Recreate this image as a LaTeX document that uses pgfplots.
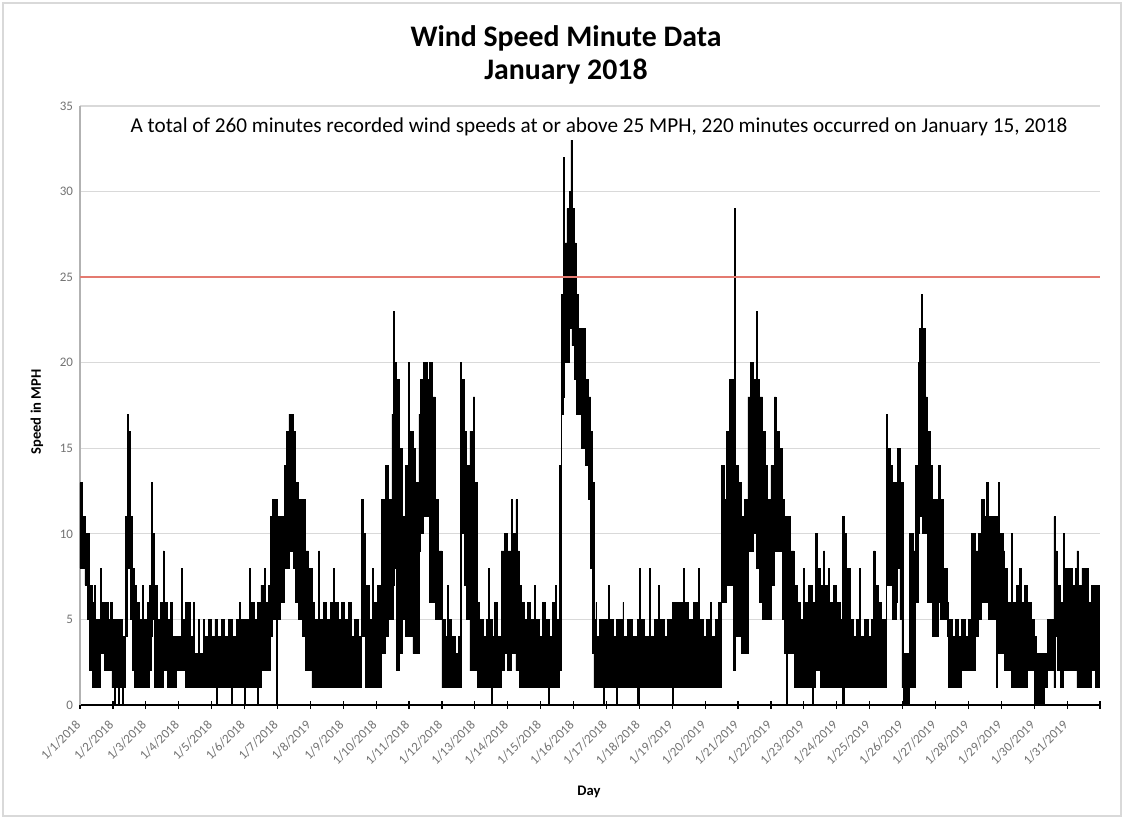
\documentclass[border=0pt]{standalone}
\usepackage{fontspec}
\setmainfont{Carlito}
\usepackage{pgfplots}
\pgfplotsset{compat=1.18}
\usepackage{pgfplotstable}

\definecolor{tickgray}{RGB}{115,115,115}
\definecolor{gridgray}{RGB}{217,217,217}
\definecolor{limitred}{RGB}{228,122,112}

\begin{document}
% envelope of the minute data: x in days from 1/1, lo = lowest, hi = highest speed
\pgfplotstableread{
x lo hi
0.00 8 13
0.06 8 11
0.15 7 10
0.22 5 10
0.28 2 7
0.38 1 6
0.44 1 7
0.47 1 5
0.58 1 5
0.62 3 8
0.66 3 6
0.75 2 6
0.85 2 5
0.92 2 6
0.97 1 5
1.05 0 5
1.08 1 5
1.18 0 4
1.21 1 5
1.30 0 4
1.33 1 4
1.38 4 11
1.43 8 17
1.48 8 16
1.53 5 11
1.60 2 8
1.65 1 7
1.72 1 6
1.80 1 5
1.90 1 7
1.93 1 5
2.05 1 6
2.12 2 7
2.17 4 13
2.21 5 10
2.27 1 7
2.35 1 5
2.45 1 6
2.53 3 9
2.56 2 6
2.65 1 5
2.75 1 6
2.80 1 4
2.92 2 4
3.08 2 8
3.11 2 5
3.20 1 6
3.35 1 4
3.45 1 6
3.48 1 3
3.60 1 5
3.63 1 3
3.75 1 5
3.78 1 4
3.90 1 5
4.00 1 4
4.10 1 5
4.15 0 5
4.18 1 4
4.30 1 5
4.40 1 4
4.50 1 5
4.60 0 5
4.63 1 4
4.75 1 5
4.85 1 6
4.88 1 5
5.00 0 5
5.03 1 5
5.15 1 8
5.18 1 6
5.30 1 5
5.40 0 6
5.43 1 6
5.50 2 7
5.60 2 8
5.63 2 6
5.72 2 7
5.80 4 11
5.86 5 12
5.97 0 12
6.00 5 11
6.10 6 11
6.20 8 14
6.27 8 16
6.35 9 17
6.48 8 16
6.56 6 13
6.65 5 12
6.75 4 12
6.85 2 9
6.95 2 8
7.05 1 6
7.12 1 5
7.25 1 9
7.28 1 5
7.40 1 6
7.50 1 5
7.60 1 6
7.70 1 8
7.73 1 6
7.85 1 5
7.95 1 6
8.05 1 5
8.15 1 6
8.25 1 4
8.35 1 5
8.45 1 4
8.55 4 12
8.60 4 10
8.68 1 7
8.80 1 5
8.90 1 8
8.93 1 6
9.05 1 7
9.15 3 12
9.28 4 14
9.38 5 12
9.48 5 17
9.54 7 23
9.57 8 20
9.63 2 19
9.72 3 15
9.80 5 11
9.90 4 14
9.97 4 20
10.02 4 16
10.12 3 15
10.20 3 13
10.30 9 17
10.35 10 19
10.45 11 20
10.55 11 19
10.62 6 20
10.70 6 18
10.80 5 12
10.90 5 9
11.00 1 5
11.10 1 4
11.18 1 7
11.21 1 5
11.30 1 4
11.40 1 3
11.50 1 4
11.55 1 20
11.60 10 19
11.68 7 16
11.75 5 14
11.85 2 16
11.95 2 18
12.00 2 13
12.08 1 6
12.15 1 5
12.25 1 4
12.35 1 5
12.40 1 8
12.43 1 5
12.50 0 5
12.53 1 4
12.60 1 6
12.70 1 4
12.80 2 9
12.90 3 10
13.00 2 9
13.10 4 12
13.14 3 10
13.25 2 12
13.29 2 9
13.35 1 7
13.40 1 6
13.50 1 5
13.60 1 6
13.70 1 5
13.80 1 7
13.83 1 5
13.95 1 4
14.05 1 6
14.15 1 5
14.25 0 5
14.28 1 4
14.35 1 6
14.45 1 7
14.48 1 5
14.58 2 14
14.64 17 24
14.68 18 32
14.71 20 27
14.80 20 29
14.88 22 30
14.92 22 33
14.95 21 29
15.02 19 27
15.08 17 24
15.15 17 22
15.25 15 22
15.35 14 19
15.45 12 18
15.52 8 16
15.58 3 13
15.62 1 5
15.68 1 6
15.70 1 4
15.80 1 5
15.90 0 4
15.93 1 5
16.05 1 7
16.08 1 5
16.20 1 4
16.30 0 5
16.33 1 5
16.50 1 6
16.53 1 4
16.65 1 5
16.80 1 4
16.95 0 5
17.00 1 8
17.03 1 5
17.15 1 4
17.30 1 8
17.33 1 4
17.45 1 5
17.57 1 7
17.60 1 5
17.75 1 4
17.85 1 5
18.00 0 6
18.03 1 6
18.20 1 6
18.33 1 8
18.36 1 6
18.50 1 5
18.65 1 6
18.80 1 8
18.83 1 5
18.95 1 4
19.05 1 5
19.15 1 6
19.18 1 4
19.30 1 5
19.40 1 6
19.50 6 14
19.58 6 12
19.65 7 16
19.75 7 19
19.85 2 16
19.88 2 29
19.91 4 14
20.00 4 13
20.10 3 11
20.20 3 12
20.30 9 18
20.38 9 20
20.48 10 19
20.55 8 23
20.58 8 19
20.65 6 18
20.75 5 16
20.82 5 14
20.90 5 12
21.00 7 14
21.10 9 18
21.15 9 16
21.25 9 15
21.35 5 12
21.40 3 11
21.47 0 8
21.50 3 11
21.60 3 9
21.70 1 7
21.80 1 6
21.90 1 5
22.00 1 8
22.03 1 6
22.15 1 7
22.25 0 6
22.28 1 6
22.35 2 10
22.40 2 8
22.50 1 7
22.60 1 9
22.63 1 7
22.75 1 8
22.78 1 6
22.90 1 7
23.00 1 6
23.10 1 5
23.18 0 11
23.22 1 10
23.30 1 8
23.40 1 5
23.50 1 4
23.60 1 5
23.70 1 8
23.73 1 4
23.85 1 5
23.95 1 4
24.05 1 5
24.12 1 9
24.16 1 7
24.25 1 6
24.35 1 5
24.50 8 17
24.55 7 15
24.62 7 14
24.70 5 13
24.80 6 12
24.85 8 15
24.92 5 13
24.98 1 13
25.02 0 3
25.20 1 10
25.32 1 9
25.40 6 14
25.47 10 20
25.52 11 22
25.56 11 24
25.60 10 22
25.68 10 18
25.75 6 16
25.85 6 14
25.92 4 12
26.05 4 11
26.10 6 14
26.15 5 12
26.25 5 8
26.35 4 6
26.40 1 5
26.50 1 4
26.60 1 5
26.70 1 4
26.80 2 5
26.90 2 4
27.00 2 5
27.10 2 10
27.20 4 9
27.30 5 10
27.40 6 12
27.50 6 11
27.55 6 13
27.62 5 11
27.84 1 11
27.87 5 11
27.90 3 13
27.95 3 10
28.05 3 9
28.10 2 8
28.20 2 6
28.30 1 10
28.33 1 6
28.45 1 7
28.55 1 8
28.60 1 6
28.70 1 7
28.80 2 6
28.92 2 5
29.00 0 3
29.05 0 4
29.08 0 3
29.30 1 3
29.40 2 5
29.55 2 5
29.60 1 11
29.63 4 9
29.70 2 7
29.80 1 6
29.90 2 10
29.93 2 8
30.05 2 8
30.15 2 7
30.25 2 8
30.30 1 9
30.35 1 7
30.45 1 8
30.55 1 8
30.65 1 6
30.75 2 7
30.85 1 7
30.97 1 7
}\windtable

\begin{tikzpicture}
\useasboundingbox (-40pt,-57pt) rectangle (522pt,352.5pt);
\draw[gridgray, line width=0.8pt, fill=white] (-38.5pt,-55.5pt) rectangle (520.5pt,351pt);
\begin{axis}[
  at={(0pt,0pt)}, anchor=south west, scale only axis,
  width=510pt, height=299.5pt,
  xmin=0, xmax=31, ymin=0, ymax=35,
  axis x line=bottom, axis y line=left, axis line style={-},
  x axis line style={black, line width=0.6pt},
  y axis line style={gray!60, line width=0.6pt},
  xtick={0,...,31},
  xticklabels={1/1/2018,1/2/2018,1/3/2018,1/4/2018,1/5/2018,1/6/2018,1/7/2018,1/8/2019,1/9/2018,1/10/2018,1/11/2018,1/12/2018,1/13/2018,1/14/2018,1/15/2018,1/16/2018,1/17/2018,1/18/2018,1/19/2019,1/20/2019,1/21/2019,1/22/2019,1/23/2019,1/24/2019,1/25/2019,1/26/2019,1/27/2019,1/28/2019,1/29/2019,1/30/2019,1/31/2019,{}},
  ytick={0,5,...,35},
  ymajorgrids, grid style={gridgray, line width=0.6pt},
  tick align=center, major tick length=4pt,
  xtick style={black, line width=0.6pt},
  ytick style={draw=none},
  tick label style={font=\fontsize{6.5}{7}\selectfont, text=tickgray},
  xticklabel style={yshift=-6pt, rotate=45, anchor=east, inner sep=1pt},
  yticklabel style={anchor=east, xshift=2pt},
  /pgf/number format/assume math mode=true,
]
\addplot[draw=none, fill=none, const plot, stack plots=y, forget plot] table[x=x, y=lo] {\windtable};
\addplot[black, fill=black, line width=0.4pt, const plot, stack plots=y] table[x=x, y expr=\thisrow{hi}-\thisrow{lo}] {\windtable} \closedcycle;
\addplot[limitred, line width=0.9pt, stack plots=false] coordinates {(0,25) (31,25)};
\end{axis}
\node[font=\bfseries\fontsize{14.9}{17}\selectfont] at (243pt,333.5pt) {Wind Speed Minute Data};
\node[font=\bfseries\fontsize{14.9}{17}\selectfont] at (243pt,316.5pt) {January 2018};
\node[font=\fontsize{10.6}{12}\selectfont] at (259.5pt,289pt) {A total of 260 minutes recorded wind speeds at or above 25 MPH, 220 minutes occurred on January 15, 2018};
\node[font=\bfseries\fontsize{7.3}{9}\selectfont, rotate=90] at (-21.5pt,146.5pt) {Speed in MPH};
\node[font=\bfseries\fontsize{7.3}{9}\selectfont] at (254.5pt,-43.5pt) {Day};
\end{tikzpicture}
\end{document}
